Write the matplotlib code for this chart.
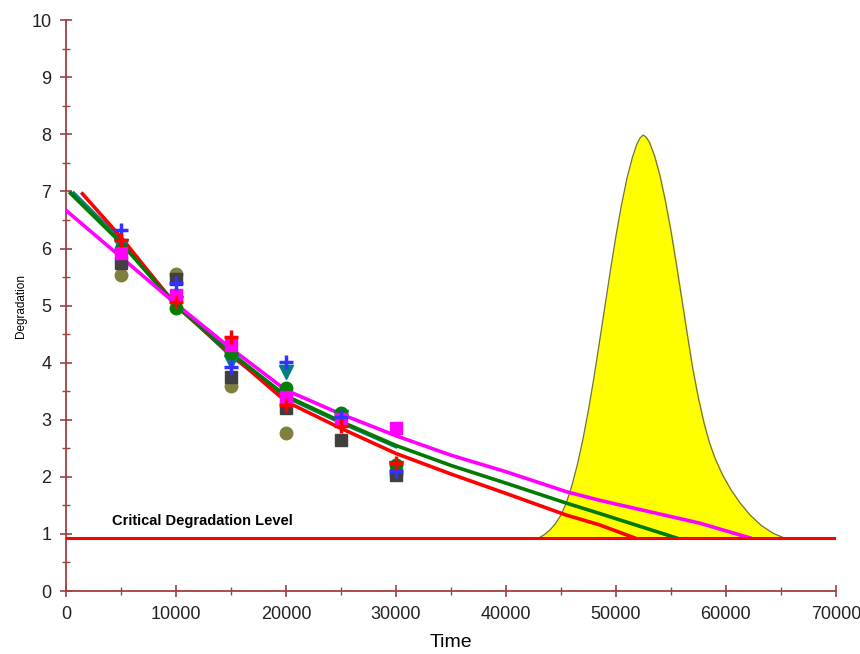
import matplotlib.pyplot as plt
import numpy as np

plt.rcParams['font.family'] = ['Liberation Sans', 'DejaVu Sans']

# measurement times
t = [5000, 10000, 15000, 20000, 25000, 30000]

blue_plus = [6.32, 5.39, 3.92, 4.02, 3.05, 2.10]
red_plus = [6.15, 5.07, 4.45, 3.26, 2.90, 2.24]
mag_sq = [5.93, 5.18, 4.31, 3.40, 3.02, 2.85]
dark_sq = [5.75, 5.46, 3.75, 3.20, 2.64, 2.03]
olive_c = [5.53, 5.56, 3.60, 2.76, 3.08, 2.05]
green_c = [6.00, 4.96, 4.17, 3.55, 3.12, 2.20]
teal_tri = [6.05, 5.05, 4.02, 3.84, 3.05, 2.15]

# fitted degradation paths
red_x = [1500, 5000, 10000, 15000, 20000, 25000, 30000, 35000, 40000, 45500, 48500, 51700]
red_y = [6.96, 6.20, 5.00, 4.15, 3.32, 2.85, 2.41, 2.05, 1.71, 1.33, 1.16, 0.93]
green_x = [400, 5000, 10000, 15000, 20000, 25000, 30000, 35000, 40000, 45500, 48500, 55500]
green_y = [6.97, 6.10, 5.00, 4.17, 3.42, 2.97, 2.55, 2.20, 1.89, 1.54, 1.36, 0.93]
teal_x = [700, 5000, 10000, 15000, 20000, 25000, 30000]
teal_y = [6.97, 6.15, 5.02, 4.12, 3.40, 2.95, 2.53]
mag_x = [0, 5000, 10000, 15000, 20000, 25000, 30000, 35000, 40000, 45500, 48500, 57600, 62200]
mag_y = [6.67, 5.85, 5.03, 4.25, 3.52, 3.10, 2.72, 2.38, 2.09, 1.74, 1.59, 1.19, 0.93]

# failure-time distribution (bell)
bell_x = [43000, 43500, 44000, 44500, 45000, 45500, 46000, 46500, 47000, 47500,
          48000, 48500, 49000, 49500, 50000, 50500, 51000, 51500, 51900, 52200,
          52480, 52750, 53050, 53500, 54000, 54500, 55000, 55500, 56000, 56500,
          57000, 57500, 58000, 58500, 59000, 59700, 60500, 61300, 62200, 63200,
          64300, 65300]
bell_y = [0.93, 0.99, 1.07, 1.18, 1.33, 1.55, 1.85, 2.22, 2.66, 3.17,
          3.74, 4.36, 4.99, 5.62, 6.22, 6.76, 7.23, 7.60, 7.83, 7.94,
          7.99, 7.95, 7.86, 7.63, 7.28, 6.83, 6.31, 5.72, 5.10, 4.48,
          3.88, 3.38, 2.95, 2.60, 2.33, 2.03, 1.76, 1.54, 1.33, 1.15,
          1.01, 0.93]

critical = 0.93

fig = plt.figure(figsize=(8.6, 6.54), dpi=100)
ax = fig.add_axes([0.0767, 0.0963, 0.8953, 0.8727])

ax.fill_between(bell_x, critical, bell_y, color='#FFFF00', zorder=1)
ax.plot(bell_x, bell_y, color='#707050', lw=0.9, zorder=2)

ax.plot(teal_x, teal_y, color='#008080', lw=2.6, zorder=3)
ax.plot(red_x, red_y, color='#FF0000', lw=2.6, zorder=3)
ax.plot(green_x, green_y, color='#007A00', lw=2.6, zorder=3)
ax.plot(mag_x, mag_y, color='#FF00FF', lw=2.6, zorder=3)

ax.plot(t, olive_c, 'o', color='#7F7F3F', ms=9, zorder=4)
ax.plot(t, dark_sq, 's', color='#404040', ms=8, zorder=4)
ax.plot(t, teal_tri, 'v', color='#008080', ms=10, zorder=4)
ax.plot(t, green_c, 'o', color='#008000', ms=9, zorder=5)
ax.plot(t, mag_sq, 's', color='#FF00FF', ms=8, zorder=5)
ax.plot(t, blue_plus, '+', color='#3333FF', ms=10, mew=2.5, zorder=5)
ax.plot(t, red_plus, '+', color='#FF0000', ms=10, mew=2.5, zorder=6)

ax.axhline(critical, color='#FF0000', lw=2.2, zorder=6)
ax.text(4200, 1.22, 'Critical Degradation Level', fontsize=10.5, fontweight='bold',
        va='center', ha='left', zorder=7)

ax.set_xlim(0, 70000)
ax.set_ylim(0, 10)
ax.set_xticks(np.arange(0, 70001, 10000))
ax.set_xticks(np.arange(0, 70001, 5000), minor=True)
ax.set_yticks(np.arange(0, 11, 1))
ax.set_yticks(np.arange(0, 10.01, 0.5), minor=True)

for s in ['top', 'right']:
    ax.spines[s].set_visible(False)
for s in ['left', 'bottom']:
    ax.spines[s].set_color('#A04040')
    ax.spines[s].set_linewidth(1.3)
ax.tick_params(which='major', direction='inout', length=9, width=1.2, color='#A04040',
               labelsize=13, labelcolor='#222222', pad=6)
ax.tick_params(which='minor', direction='inout', length=6, width=1.0, color='#A04040')

ax.set_xlabel('Time', fontsize=14, labelpad=8)
ax.set_ylabel('Degradation', fontsize=8.5, labelpad=3)

plt.savefig('out.png', dpi=100)
